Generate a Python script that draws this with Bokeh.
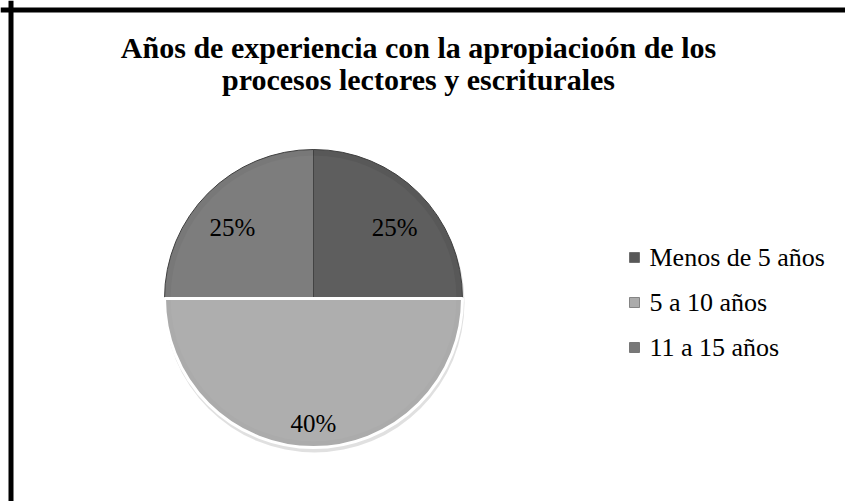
import math
from bokeh.plotting import figure
from bokeh.models import Range1d, Span
from bokeh.core.properties import value
from bokeh.embed import file_html
from bokeh.resources import INLINE

# ---- data ----
title_lines = ["Años de experiencia con la apropiacioón de los",
               "procesos lectores y escriturales"]
categories = ["Menos de 5 años", "5 a 10 años", "11 a 15 años"]
shares = [25, 50, 25]              # slice sizes as drawn
pct_labels = ["25%", "40%", "25%"]  # labels as printed on the chart
colors = ["#585858", "#ababab", "#787878"]

W, H = 845, 501
p = figure(width=W, height=H, output_backend="svg", toolbar_location=None,
           x_range=Range1d(0, W), y_range=Range1d(0, H),
           x_axis_location=None, y_axis_location=None, min_border=0,
           outline_line_color=None)
p.grid.visible = False
p.background_fill_color = "white"
p.border_fill_color = "white"

# frame border (left + top visible)
p.add_layout(Span(location=10.5, dimension="height", line_color="black", line_width=5))
p.add_layout(Span(location=H - 9.5, dimension="width", line_color="black", line_width=5))

SERIF = value("Liberation Serif")

# title
for i, line in enumerate(title_lines):
    p.text(x=[418], y=[H - 47 - i * 32], text=[line], text_font=SERIF,
           text_font_size="30px", text_font_style="bold", text_align="center",
           text_baseline="middle", text_color="black")

# pie
cx, cy, R = 313, H - 298, 149
total = sum(shares)
starts, ends, mids = [], [], []
acc = 0
for s in shares:
    a0 = math.pi / 2 - 2 * math.pi * acc / total
    a1 = math.pi / 2 - 2 * math.pi * (acc + s) / total
    starts.append(a0); ends.append(a1); mids.append((a0 + a1) / 2)
    acc += s

# shadow
p.circle(x=[cx + 1], y=[cy - 4], radius=R + 1, fill_color="black", fill_alpha=0.12,
         line_color=None)

order = [0, 2, 1]
for i in order:
    lc = "white" if i == 1 else "#404040"
    lw = 3 if i == 1 else 1
    p.wedge(x=cx, y=cy, radius=R, start_angle=starts[i], end_angle=ends[i],
            direction="clock", fill_color=colors[i], line_color=lc, line_width=lw)
    p.wedge(x=cx, y=cy, radius=R - 6, start_angle=starts[i], end_angle=ends[i],
            direction="clock", fill_color="white", fill_alpha=0.04, line_color=None)

lx = [cx + 0.77 * R * math.cos(m) for m in mids]
ly = [cy + 0.77 * R * math.sin(m) - 10 for m in mids]
p.text(x=lx, y=ly, text=pct_labels, text_font=SERIF, text_font_size="25px",
       text_align="center", text_baseline="middle", text_color="black")

# legend
leg_x, leg_y0, leg_dy = 634, H - 257, 45
ys = [leg_y0 - i * leg_dy for i in range(len(categories))]
p.scatter(x=[leg_x] * len(categories), y=ys, marker="square", size=10,
          fill_color=colors, line_color="#333333", line_width=0.5)
p.text(x=[leg_x + 15] * len(categories), y=ys, text=categories, text_font=SERIF,
       text_font_size="26px", text_align="left", text_baseline="middle",
       text_color="black")

open("out.html", "w").write(file_html(p, INLINE))
